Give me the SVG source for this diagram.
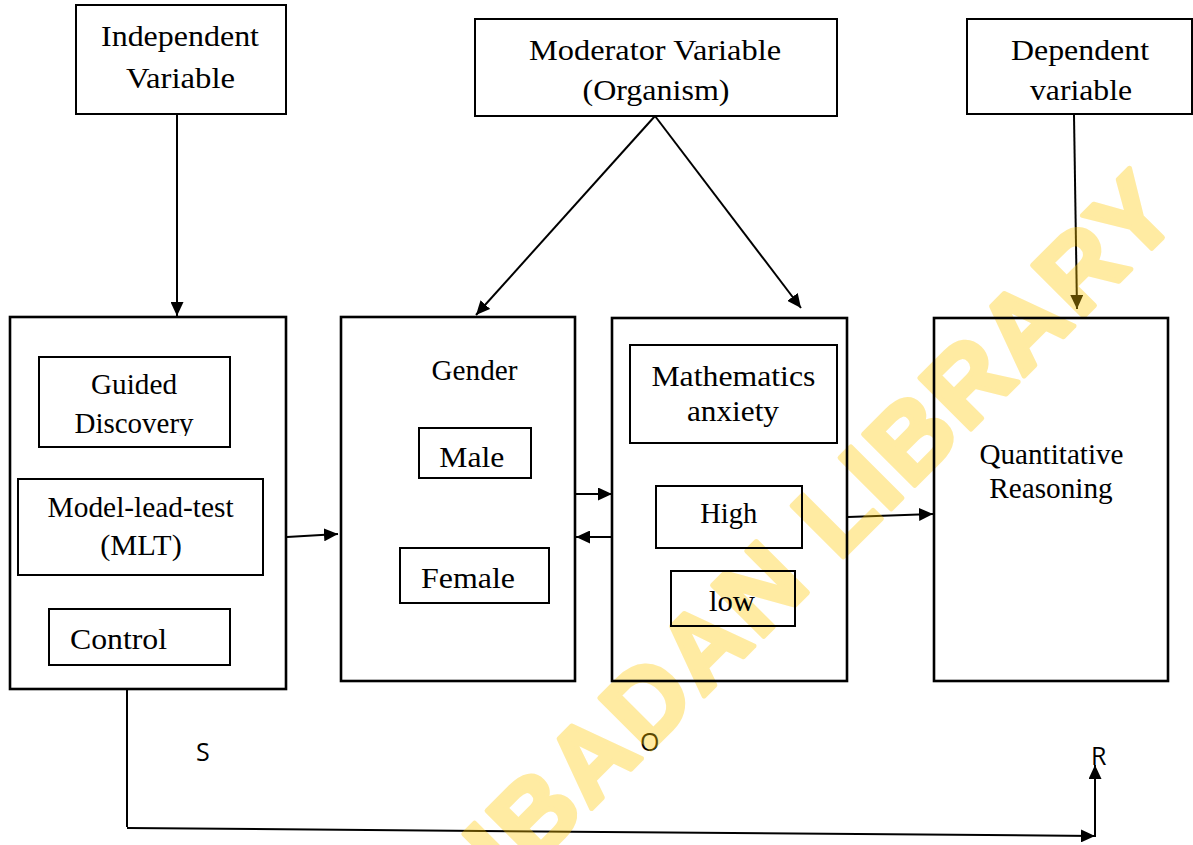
<svg xmlns="http://www.w3.org/2000/svg" width="1193" height="845" viewBox="0 0 1193 845">
<style>
.node rect{fill:none;stroke:#000;stroke-width:2}
.node rect.main{stroke-width:2.6}
.node text{font-family:"Liberation Serif","Times New Roman",serif;font-size:30px;fill:#000}
.conn line,.conn path{stroke:#000;stroke-width:2;fill:none}
.lbl{font-family:"Open Sans","Liberation Sans",sans-serif;font-size:25px;fill:#000}
.wm{font-family:"Liberation Sans",Arial,sans-serif;font-weight:bold;font-size:105px;fill:#FFC800;stroke:#FFC800;stroke-width:5;stroke-linejoin:round;opacity:0.36}
</style>
<defs>
<marker id="ah" markerUnits="userSpaceOnUse" markerWidth="14" markerHeight="13" refX="14" refY="6.5" orient="auto">
<path d="M0,0 L14,6.5 L0,13 z" fill="#000"/>
</marker>
<clipPath id="clipGD"><rect x="30" y="350" width="210" height="86"/></clipPath>
</defs>
<rect x="0" y="0" width="1193" height="845" fill="#fff"/>

<g id="connectors" class="conn">
<line x1="177" y1="115" x2="177" y2="316" marker-end="url(#ah)"/>
<line x1="655" y1="116" x2="476" y2="315" marker-end="url(#ah)"/>
<line x1="655" y1="116" x2="801" y2="308" marker-end="url(#ah)"/>
<line x1="1074" y1="115" x2="1077" y2="309" marker-end="url(#ah)"/>
<line x1="287" y1="537" x2="338" y2="534" marker-end="url(#ah)"/>
<line x1="576" y1="494" x2="612" y2="494" marker-end="url(#ah)"/>
<line x1="612" y1="537" x2="576" y2="537" marker-end="url(#ah)"/>
<line x1="848" y1="517" x2="933" y2="514" marker-end="url(#ah)"/>
<line x1="127" y1="689" x2="127" y2="827"/>
<line x1="127" y1="828" x2="1095" y2="836" marker-end="url(#ah)"/>
<line x1="1095" y1="837" x2="1095" y2="765" marker-end="url(#ah)"/>
</g>

<g id="labels">
<text class="lbl" x="196" y="761">S</text>
<text class="lbl" x="640" y="751">O</text>
<text class="lbl" x="1091" y="765">R</text>
</g>

<text class="wm" x="510" y="890" transform="rotate(-45 510 890)" textLength="950">IBADAN LIBRARY</text>

<g id="independent" class="node">
<rect x="76" y="5" width="210" height="109"/>
<text x="180" y="46" text-anchor="middle" textLength="158" lengthAdjust="spacingAndGlyphs">Independent</text>
<text x="180.5" y="88" text-anchor="middle" textLength="109" lengthAdjust="spacingAndGlyphs">Variable</text>
</g>
<g id="moderator" class="node">
<rect x="475" y="19" width="362" height="97"/>
<text x="655" y="60" text-anchor="middle" textLength="252" lengthAdjust="spacingAndGlyphs">Moderator Variable</text>
<text x="656" y="100" text-anchor="middle" textLength="147" lengthAdjust="spacingAndGlyphs">(Organism)</text>
</g>
<g id="dependent" class="node">
<rect x="967" y="19" width="225" height="95"/>
<text x="1080" y="60" text-anchor="middle" textLength="138" lengthAdjust="spacingAndGlyphs">Dependent</text>
<text x="1081" y="100" text-anchor="middle" textLength="102" lengthAdjust="spacingAndGlyphs">variable</text>
</g>

<g id="stimulus" class="node">
<rect class="main" x="10" y="317" width="276" height="372"/>
<g id="guided">
<rect x="39" y="357" width="191" height="90"/>
<text x="134" y="394" text-anchor="middle" textLength="86" lengthAdjust="spacingAndGlyphs" font-size="29">Guided</text>
<text x="134" y="433" text-anchor="middle" textLength="119" lengthAdjust="spacingAndGlyphs" font-size="29" clip-path="url(#clipGD)">Discovery</text>
</g>
<g id="mlt">
<rect x="18" y="479" width="245" height="96"/>
<text x="140.6" y="517" text-anchor="middle" textLength="186" lengthAdjust="spacingAndGlyphs" font-size="29">Model-lead-test</text>
<text x="141" y="555" text-anchor="middle" textLength="81.5" lengthAdjust="spacingAndGlyphs" font-size="29">(MLT)</text>
</g>
<g id="control">
<rect x="49" y="609" width="181" height="56"/>
<text x="70" y="649" textLength="97" lengthAdjust="spacingAndGlyphs" font-size="32">Control</text>
</g>
</g>

<g id="gender" class="node">
<rect class="main" x="341" y="317" width="234" height="364"/>
<text x="474.5" y="380" text-anchor="middle" textLength="86" lengthAdjust="spacingAndGlyphs" font-size="27">Gender</text>
<g id="male">
<rect x="419" y="428" width="112" height="50"/>
<text x="439.3" y="467" textLength="65" lengthAdjust="spacingAndGlyphs">Male</text>
</g>
<g id="female">
<rect x="400" y="548" width="149" height="55"/>
<text x="421" y="588" textLength="94" lengthAdjust="spacingAndGlyphs">Female</text>
</g>
</g>

<g id="anxiety" class="node">
<rect class="main" x="612" y="318" width="235" height="363"/>
<g id="mathanx">
<rect x="630" y="345" width="207" height="98"/>
<text x="733.4" y="386" text-anchor="middle" textLength="164" lengthAdjust="spacingAndGlyphs" font-size="31">Mathematics</text>
<text x="733" y="421" text-anchor="middle" textLength="92" lengthAdjust="spacingAndGlyphs" font-size="31">anxiety</text>
</g>
<g id="high">
<rect x="656" y="486" width="146" height="62"/>
<text x="728.7" y="523" text-anchor="middle" textLength="57" lengthAdjust="spacingAndGlyphs" font-size="28">High</text>
</g>
<g id="low">
<rect x="671" y="571" width="124" height="55"/>
<text x="732" y="611" text-anchor="middle" textLength="46" lengthAdjust="spacingAndGlyphs">low</text>
</g>
</g>

<g id="quantitative" class="node">
<rect class="main" x="934" y="318" width="234" height="363"/>
<text x="1051.5" y="464" text-anchor="middle" textLength="144" lengthAdjust="spacingAndGlyphs" font-size="28">Quantitative</text>
<text x="1051" y="498" text-anchor="middle" textLength="123.5" lengthAdjust="spacingAndGlyphs" font-size="28">Reasoning</text>
</g>
</svg>
